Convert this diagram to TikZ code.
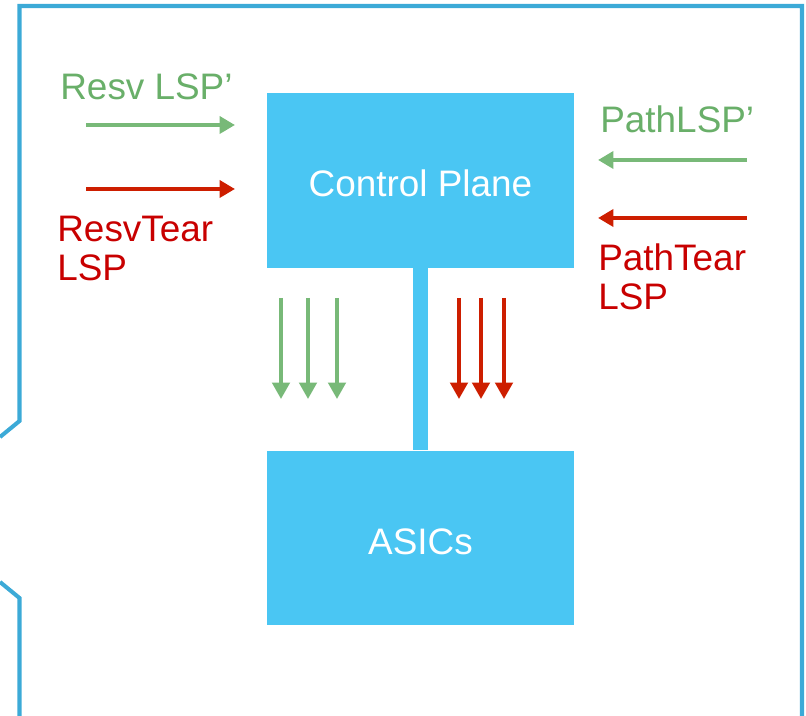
\documentclass[tikz,border=0pt]{standalone}
\usepackage{fontspec}
\setmainfont{Liberation Sans}
\usepackage{tikz}
\usetikzlibrary{arrows.meta}
\definecolor{BoxBlue}{RGB}{74,198,243}
\definecolor{FrameBlue}{RGB}{60,170,215}
\definecolor{ArrGreen}{RGB}{120,185,120}
\definecolor{TxtGreen}{RGB}{105,175,105}
\definecolor{ArrRed}{RGB}{205,30,0}
\definecolor{TxtRed}{RGB}{200,0,0}

\begin{document}
\begin{tikzpicture}[x=0.02cm, y=-0.02cm,
            box/.style={fill=BoxBlue, text=white, inner sep=0,
                        minimum width=6.14cm, minimum height=3.5cm,
                        text height=18.4pt, text depth=0pt,
                        font=\fontsize{21}{22}\selectfont},
            lbl/.style={inner sep=0, align=left, font=\fontsize{21}{22}\selectfont},
            harr/.style={-{Triangle[length=3.1mm, width=3.4mm]}, line width=2.2pt},
            varr/.style={-{Triangle[length=3.3mm, width=3.5mm]}, line width=2pt},
            frame/.style={draw=FrameBlue, line width=2.3pt}
        ]
            \useasboundingbox (0,0) rectangle (806,716);

            % outer frame
            \draw[frame] (0,437) -- (19.5,421) -- (19.5,6) -- (802,6) -- (802,720);
            \draw[frame] (0,582) -- (19.5,598) -- (19.5,720);

            \node[box] (cp)    at (420.5,180.5) {Control Plane};
            \node[box] (asics) at (420.5,538)   {ASICs};
            \draw[BoxBlue, line width=0.32cm] (cp.south) -- (asics.north);

            \node[lbl, text=TxtGreen, anchor=base west] (resv)     at (60,100)   {Resv LSP’};
            \node[lbl, text=TxtRed, anchor=west]        (resvtear) at (57,248.5) {ResvTear\\LSP};
            \node[lbl, text=TxtGreen, anchor=base west] (path)     at (600,133)  {PathLSP’};
            \node[lbl, text=TxtRed, anchor=west]        (pathtear) at (598,277)  {PathTear\\LSP};

            \draw[harr, ArrGreen] (86,125) -- (235,125);
            \draw[harr, ArrRed]   (86,189) -- (235,189);
            \draw[harr, ArrGreen] (747,160) -- (598,160);
            \draw[harr, ArrRed]   (747,218) -- (598,218);

            \draw[varr, ArrGreen] (281,298) -- (281,399);
            \draw[varr, ArrGreen] (308,298) -- (308,399);
            \draw[varr, ArrGreen] (337,298) -- (337,399);
            \draw[varr, ArrRed]   (459,298) -- (459,399);
            \draw[varr, ArrRed]   (481,298) -- (481,399);
            \draw[varr, ArrRed]   (504,298) -- (504,399);

        \end{tikzpicture}
\end{document}
